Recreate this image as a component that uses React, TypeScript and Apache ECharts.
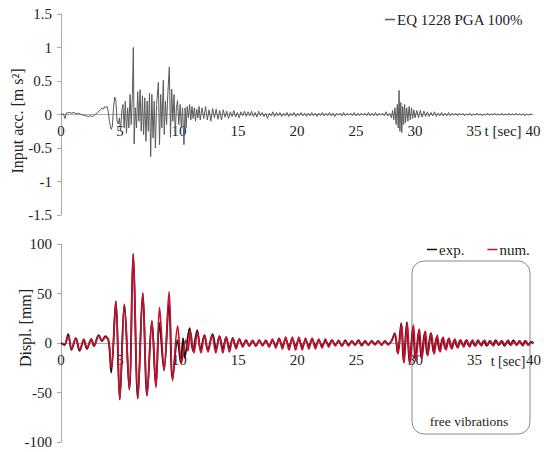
import React, { useEffect, useRef } from "react";
import * as echarts from "echarts";

const FONT = "'Liberation Serif', 'Times New Roman', serif";

const accName = "EQ 1228 PGA 100%";
const expName = "exp.";
const numName = "num.";

// input acceleration [m/s2] : [t (s), a]
const accData: [number, number][] = [
  [0, 0], [0.2, 0.01], [0.35, -0.06], [0.45, 0.02], [0.7, 0.03], [0.9, 0.02], [1.1, 0.03], [1.3, 0.01],
  [1.5, 0.02], [1.7, 0.0], [1.9, -0.01], [2.1, -0.02], [2.3, -0.03], [2.5, -0.02], [2.7, -0.03], [2.9, 0.0],
  [3.1, 0.03], [3.3, 0.06], [3.5, 0.1], [3.6, 0.08], [3.7, 0.12], [3.8, 0.1], [3.9, 0.12], [4.0, 0.05],
  [4.1, -0.1], [4.25, -0.22], [4.35, -0.18], [4.45, 0.1], [4.55, 0.26], [4.65, 0.2], [4.75, -0.1], [4.85, -0.14],
  [4.95, -0.05], [5.05, -0.25], [5.15, 0.05], [5.25, 0.15], [5.35, -0.2], [5.45, 0.2], [5.55, -0.28], [5.65, 0.1],
  [5.75, -0.2], [5.85, 0.3], [5.95, -0.15], [6.05, 0.3], [6.13, 1.0], [6.2, -0.44], [6.3, 0.1], [6.4, -0.2],
  [6.5, 0.34], [6.6, -0.1], [6.7, 0.37], [6.8, -0.25], [6.9, 0.28], [7.0, -0.3], [7.1, 0.25], [7.2, -0.4],
  [7.3, 0.2], [7.4, -0.25], [7.5, 0.32], [7.6, -0.63], [7.7, 0.3], [7.8, -0.35], [7.9, 0.2], [8.0, -0.5],
  [8.1, 0.15], [8.25, 0.48], [8.35, -0.45], [8.45, 0.3], [8.55, -0.2], [8.67, 0.51], [8.75, -0.3], [8.85, 0.2],
  [8.95, -0.15], [9.05, 0.3], [9.18, 0.71], [9.28, -0.34], [9.38, 0.38], [9.48, -0.1], [9.58, 0.3], [9.68, -0.29],
  [9.78, 0.1], [9.88, 0.21], [9.98, -0.15], [10.1, 0.15], [10.2, -0.2], [10.3, 0.1], [10.42, -0.45], [10.52, 0.1],
  [10.6, -0.2], [10.7, 0.12], [10.8, -0.05], [10.9, 0.15], [11.0, -0.08], [11.1, 0.12], [11.2, -0.06], [11.3, 0.1],
  [11.4, -0.1], [11.5, 0.08], [11.6, -0.05], [11.7, 0.12], [11.8, -0.08], [11.95, 0.1], [12.1, -0.06], [12.25, 0.12],
  [12.4, -0.08], [12.55, 0.07], [12.7, -0.1], [12.85, 0.09], [13.0, -0.05], [13.15, 0.08], [13.3, -0.07], [13.45, 0.06],
  [13.6, -0.08], [13.75, 0.07], [13.9, -0.04], [14.05, 0.05], [14.2, -0.06], [14.35, 0.04], [14.5, -0.03], [14.65, 0.06],
  [14.8, -0.04], [14.95, 0.03], [15.1, -0.05], [15.25, 0.04], [15.4, -0.02], [15.55, 0.05], [15.7, -0.03], [15.85, 0.04],
  [16.0, -0.02], [16.15, 0.05], [16.3, -0.03], [16.45, 0.03], [16.6, -0.04], [16.75, 0.05], [16.9, -0.02], [17.05, 0.03],
  [17.2, -0.03], [17.35, 0.02], [17.5, -0.06], [17.65, 0.02], [17.8, -0.02], [17.95, 0.04], [18.1, -0.03], [18.25, 0.03],
  [18.4, -0.02], [18.55, 0.03], [18.7, -0.03], [18.85, 0.02], [19.0, -0.02], [19.15, 0.03], [19.3, -0.03], [19.45, 0.02],
  [19.6, -0.02], [19.75, 0.03], [19.9, -0.03], [20.05, 0.02], [20.2, -0.02], [20.35, 0.03], [20.5, -0.02], [20.65, 0.02],
  [20.8, -0.03], [20.95, 0.02], [21.1, -0.02], [21.25, 0.03], [21.4, -0.02], [21.55, 0.02], [21.7, -0.03], [21.85, 0.02],
  [22.0, -0.02], [22.15, 0.03], [22.3, -0.02], [22.45, 0.02], [22.6, -0.02], [22.75, 0.03], [22.9, -0.02], [23.05, 0.02],
  [23.2, -0.03], [23.35, 0.02], [23.5, -0.01], [23.65, 0.02], [23.8, -0.02], [23.95, 0.03], [24.1, -0.02], [24.25, 0.02],
  [24.4, -0.01], [24.55, 0.02], [24.7, -0.02], [24.85, 0.03], [25.0, -0.02], [25.15, 0.02], [25.3, -0.02], [25.45, 0.02],
  [25.6, -0.01], [25.75, 0.02], [25.9, -0.02], [26.05, 0.03], [26.2, -0.02], [26.35, 0.02], [26.5, -0.02], [26.65, 0.03],
  [26.8, -0.02], [26.95, 0.02], [27.1, -0.01], [27.25, 0.02], [27.4, -0.02], [27.55, 0.04], [27.7, -0.02], [27.85, 0.02],
  [28.0, -0.05], [28.1, 0.06], [28.2, -0.08], [28.3, 0.1], [28.4, -0.15], [28.5, 0.15], [28.58, -0.2], [28.65, 0.36],
  [28.72, -0.25], [28.8, 0.18], [28.88, -0.27], [28.96, 0.12], [29.04, -0.15], [29.12, 0.15], [29.2, -0.12], [29.3, 0.1],
  [29.4, -0.1], [29.5, 0.12], [29.6, -0.08], [29.7, 0.1], [29.8, -0.06], [29.9, 0.07], [30.0, -0.05], [30.15, 0.06],
  [30.3, -0.05], [30.45, 0.06], [30.6, -0.04], [30.75, 0.05], [30.9, -0.03], [31.05, 0.04], [31.2, -0.03], [31.35, 0.03],
  [31.5, -0.02], [31.65, 0.04], [31.8, -0.03], [31.95, 0.02], [32.1, -0.02], [32.25, 0.03], [32.4, -0.02], [32.55, 0.02],
  [32.7, -0.02], [32.85, 0.03], [33.0, -0.02], [33.15, 0.02], [33.3, -0.01], [33.45, 0.02], [33.6, -0.02], [33.75, 0.02],
  [33.9, -0.01], [34.05, 0.02], [34.2, -0.02], [34.35, 0.01], [34.5, -0.01], [34.65, 0.02], [34.8, -0.02], [34.95, 0.01],
  [35.1, -0.01], [35.25, 0.02], [35.4, -0.01], [35.55, 0.01], [35.7, -0.02], [35.85, 0.01], [36.0, -0.01], [36.15, 0.02],
  [36.3, -0.01], [36.45, 0.01], [36.6, -0.01], [36.75, 0.02], [36.9, -0.01], [37.05, 0.01], [37.2, -0.01], [37.35, 0.02],
  [37.5, -0.01], [37.65, 0.01], [37.8, -0.01], [37.95, 0.02], [38.1, -0.01], [38.25, 0.01], [38.4, -0.01], [38.55, 0.02],
  [38.7, -0.01], [38.85, 0.01], [39.0, -0.01], [39.15, 0.01], [39.3, -0.02], [39.45, 0.01], [39.6, -0.01], [39.75, 0.01],
  [39.9, 0.0],
];

// experimental displacement [mm] : [t (s), d]
const expData: [number, number][] = [
  [0, 0], [0.3, -2], [0.61, 9], [0.89, -7], [1.25, 5], [1.58, -8], [1.92, 3], [2.19, -6], [2.56, 4], [2.78, -3],
  [3.19, 8], [3.47, 2], [3.75, 7], [4.03, 2], [4.25, -30], [4.64, 42], [4.97, -57], [5.36, 39], [5.78, -47],
  [6.11, 90], [6.5, -56], [6.92, 50], [7.28, -53], [7.69, 22], [8.03, -43], [8.33, 20], [8.72, -27], [9.14, 40],
  [9.44, -36], [9.86, 3], [10.14, -20], [10.33, 5], [10.47, -15], [10.89, 15], [11.17, -8], [11.53, 13],
  [11.81, -7], [12.14, 8], [12.42, -7], [12.83, 9], [13.14, -6], [13.42, 7], [13.7, -6], [13.98, 6], [14.26, -5],
  [14.54, 5], [14.82, -4], [15.1, 4], [15.38, -3], [15.66, 3], [15.94, -3], [16.22, 2], [16.5, -3], [16.78, 3],
  [17.06, -2], [17.34, 2], [17.62, -3], [17.9, 3], [18.18, -3], [18.46, 4], [18.74, -3], [19.02, 4], [19.3, -4],
  [19.58, 4], [19.86, -3], [20.14, 4], [20.42, -4], [20.7, 3], [20.98, -3], [21.26, 4], [21.54, -3], [21.82, 3],
  [22.1, -3], [22.38, 2], [22.66, -2], [22.94, 3], [23.22, -2], [23.5, 2], [23.78, -3], [24.06, 3], [24.34, -2],
  [24.62, 2], [24.9, -2], [25.18, 3], [25.46, -2], [25.74, 2], [26.02, -2], [26.3, 2], [26.58, -1], [26.86, 2],
  [27.14, -2], [27.42, 2], [27.7, -1], [27.98, 2], [28.25, 10], [28.5, -10], [28.8, 20], [29.0, -19], [29.28, 21],
  [29.5, -20], [29.8, 16], [30.0, -17], [30.3, 13], [30.5, -15], [30.8, 11], [31.0, -12], [31.3, 10], [31.55, -10],
  [31.8, 6], [32.05, -8], [32.3, 5], [32.55, -6], [32.8, 4], [33.05, -5], [33.3, 3], [33.55, -4], [33.8, 3],
  [34.05, -3], [34.3, 3], [34.55, -3], [34.8, 2], [35.05, -3], [35.3, 3], [35.55, -2], [35.8, 2], [36.05, -3],
  [36.3, 2], [36.55, -2], [36.8, 3], [37.05, -2], [37.3, 2], [37.55, -3], [37.8, 2], [38.05, -2], [38.3, 3],
  [38.55, -2], [38.8, 2], [39.05, -2], [39.3, 2], [39.55, -2], [39.8, 1], [40, 0],
];

// numerical displacement [mm] : [t (s), d]
const numData: [number, number][] = [
  [0, 0], [0.3, -1], [0.62, 7], [0.9, -6], [1.26, 5], [1.6, -7], [1.93, 4], [2.2, -5], [2.57, 4], [2.8, -3],
  [3.2, 7], [3.48, 2], [3.76, 6], [4.04, 2], [4.27, -25], [4.65, 42], [4.98, -57], [5.37, 39], [5.79, -47],
  [6.12, 90], [6.51, -56], [6.93, 51], [7.29, -53], [7.7, 22], [8.04, -45], [8.34, 36], [8.73, -28], [9.15, 52],
  [9.45, -38], [9.87, 17], [10.2, -20], [10.55, 3], [10.75, -8], [10.95, 12], [11.25, -10], [11.55, 11],
  [11.85, -10], [12.15, 8], [12.45, -9], [12.8, 8], [13.1, -10], [13.4, 7], [13.7, -10], [13.98, 6], [14.26, -9],
  [14.54, 5], [14.82, -6], [15.1, 4], [15.38, -4], [15.66, 3], [15.94, -3], [16.22, 3], [16.5, -3], [16.78, 3],
  [17.06, -3], [17.34, 3], [17.62, -4], [17.9, 4], [18.18, -5], [18.46, 5], [18.74, -6], [19.02, 6], [19.3, -7],
  [19.58, 6], [19.86, -7], [20.14, 6], [20.42, -7], [20.7, 5], [20.98, -6], [21.26, 5], [21.54, -6], [21.82, 4],
  [22.1, -5], [22.38, 4], [22.66, -4], [22.94, 3], [23.22, -3], [23.5, 3], [23.78, -3], [24.06, 2], [24.34, -3],
  [24.62, 2], [24.9, -2], [25.18, 2], [25.46, -3], [25.74, 2], [26.02, -2], [26.3, 2], [26.58, -2], [26.86, 2],
  [27.14, -2], [27.42, 2], [27.7, -2], [27.98, 2], [28.28, 9], [28.53, -11], [28.83, 19], [29.04, -20], [29.31, 20],
  [29.54, -21], [29.84, 18], [30.04, -18], [30.34, 14], [30.55, -16], [30.85, 12], [31.05, -13], [31.35, 10],
  [31.6, -11], [31.85, 8], [32.1, -9], [32.35, 6], [32.6, -7], [32.85, 5], [33.1, -6], [33.35, 4], [33.6, -5],
  [33.85, 3], [34.1, -4], [34.35, 3], [34.6, -4], [34.85, 3], [35.1, -3], [35.35, 2], [35.6, -3], [35.85, 3],
  [36.1, -2], [36.35, 2], [36.6, -3], [36.85, 2], [37.1, -2], [37.35, 2], [37.6, -2], [37.85, 3], [38.1, -2],
  [38.35, 2], [38.6, -2], [38.85, 2], [39.1, -3], [39.35, 2], [39.6, -2], [39.85, 1], [40, 0],
];

const TOP_H = 201;
const BOT_H = 198;

const App: React.FC = () => {
  const ref = useRef<HTMLDivElement>(null);

  useEffect(() => {
    if (!ref.current) return;
    const chart = echarts.init(ref.current, undefined, { renderer: "svg" });
    const labelStyle = { fontFamily: FONT, fontSize: 15, color: "#222" };
    const xAxisBase = {
      type: "value" as const,
      position: "bottom" as const,
      min: 0,
      max: 40,
      interval: 5,
      axisLine: { onZero: false, lineStyle: { color: "#a8a8a8", width: 1 } },
      axisTick: { show: false },
      splitLine: { show: false },
      axisLabel: { ...labelStyle, margin: 9 },
    };
    const yAxisBase = {
      type: "value" as const,
      axisLine: { show: true, lineStyle: { color: "#a8a8a8", width: 1 } },
      axisTick: { show: true, length: 4, lineStyle: { color: "#a8a8a8" } },
      splitLine: { show: false },
      axisLabel: { ...labelStyle, margin: 9 },
    };
    const legendText = { fontFamily: FONT, fontSize: 15, color: "#222", padding: [0, 0, 0, -3] };
    const option = {
      animation: false,
      backgroundColor: "#ffffff",
      textStyle: { fontFamily: FONT },
      grid: [
        { left: 61, top: 14, width: 472, height: TOP_H },
        { left: 61, top: 244, width: 480, height: BOT_H },
      ],
      xAxis: [
        { ...xAxisBase, gridIndex: 0, offset: -TOP_H / 2 },
        { ...xAxisBase, gridIndex: 1, offset: -BOT_H / 2 },
      ],
      yAxis: [
        { ...yAxisBase, gridIndex: 0, min: -1.5, max: 1.5, interval: 0.5 },
        { ...yAxisBase, gridIndex: 1, min: -100, max: 100, interval: 50 },
      ],
      legend: [
        {
          data: [{ name: accName, icon: "rect", itemStyle: { color: "#5a5a5a" } }],
          left: 380,
          top: 7,
          itemWidth: 10,
          itemHeight: 1.5,
          textStyle: legendText,
        },
        {
          data: [
            { name: expName, icon: "rect", itemStyle: { color: "#151515" } },
            { name: numName, icon: "rect", itemStyle: { color: "#c8102e" } },
          ],
          left: 422,
          top: 237,
          itemWidth: 10,
          itemHeight: 1.5,
          itemGap: 23,
          textStyle: legendText,
        },
      ],
      series: [
        {
          name: accName,
          type: "line",
          xAxisIndex: 0,
          yAxisIndex: 0,
          data: accData,
          showSymbol: false,
          symbol: "none",
          lineStyle: { color: "#5a5a5a", width: 1 },
          itemStyle: { color: "#5a5a5a" },
        },
        {
          name: expName,
          type: "line",
          xAxisIndex: 1,
          yAxisIndex: 1,
          data: expData,
          showSymbol: false,
          symbol: "none",
          smooth: 0.35,
          lineStyle: { color: "#151515", width: 1.8 },
          itemStyle: { color: "#151515" },
        },
        {
          name: numName,
          type: "line",
          xAxisIndex: 1,
          yAxisIndex: 1,
          data: numData,
          showSymbol: false,
          symbol: "none",
          smooth: 0.35,
          lineStyle: { color: "#c8102e", width: 1.7 },
          itemStyle: { color: "#c8102e" },
        },
      ],
      graphic: [
        {
          type: "text",
          x: 17,
          y: 121,
          rotation: Math.PI / 2,
          style: { text: "Input acc. [m s²]", font: `16px ${FONT}`, fill: "#222", align: "center", verticalAlign: "middle" },
        },
        {
          type: "text",
          x: 25,
          y: 328,
          rotation: Math.PI / 2,
          style: { text: "Displ. [mm]", font: `16px ${FONT}`, fill: "#222", align: "center", verticalAlign: "middle" },
        },
        {
          type: "text",
          x: 503,
          y: 131,
          style: { text: "t [sec]", font: `15px ${FONT}`, fill: "#222", align: "center", verticalAlign: "middle" },
        },
        {
          type: "text",
          x: 508,
          y: 361,
          style: { text: "t [sec]", font: `14px ${FONT}`, fill: "#222", align: "center", verticalAlign: "middle" },
        },
        {
          type: "rect",
          shape: { x: 412, y: 261, width: 118, height: 173, r: 12 },
          style: { fill: "none", stroke: "#8a8a8a", lineWidth: 1 },
        },
        {
          type: "text",
          x: 469,
          y: 421,
          style: { text: "free vibrations", font: `13.5px ${FONT}`, fill: "#222", align: "center", verticalAlign: "middle" },
        },
      ],
    };
    chart.setOption(option as any);
    return () => {
      chart.dispose();
    };
  }, []);

  return (
    <div
      ref={ref}
      style={{ position: "fixed", left: 0, top: 0, width: 544, height: 452, background: "#fff" }}
    />
  );
};

export default App;
